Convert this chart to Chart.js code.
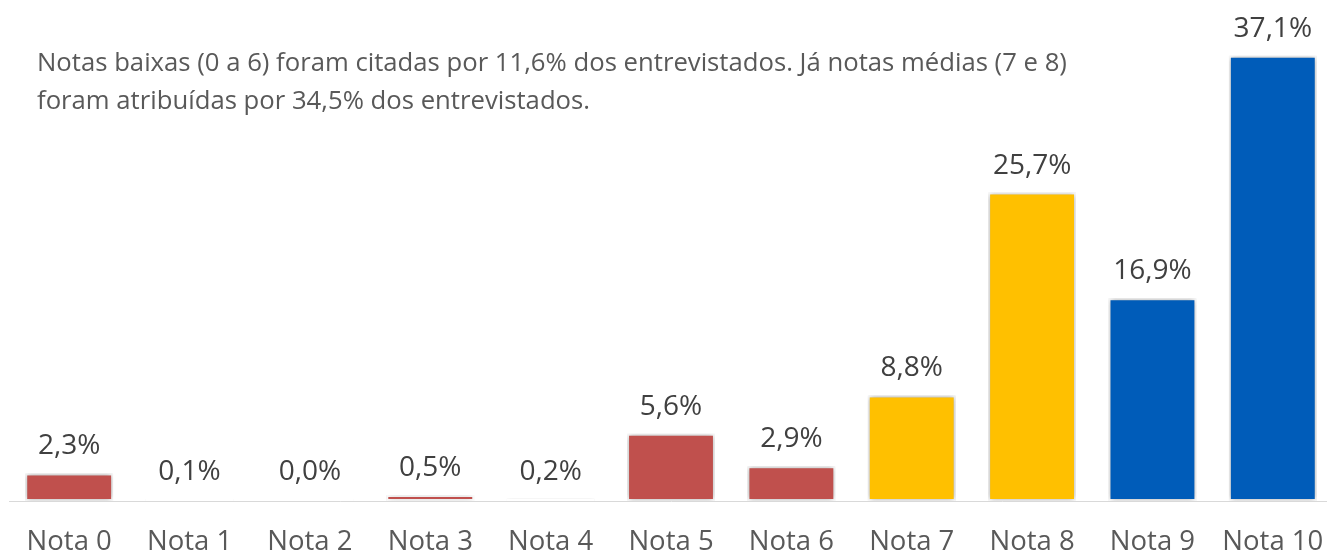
<!DOCTYPE html>
<html>
<head>
<meta charset="utf-8">
<script src="https://cdn.jsdelivr.net/npm/chart.js@4/dist/chart.umd.min.js"></script>
<style>
  html, body { margin: 0; padding: 0; background: #fff; overflow: hidden; }
  #wrap { position: relative; width: 1327px; height: 557px; overflow: hidden; }
  #chart-box { position: absolute; left: 0; top: 0; width: 1342px; height: 557px; }
  .note {
    position: absolute; left: 37px; top: 43px;
    font-family: 'Open Sans', sans-serif; font-size: 25.7px; line-height: 38px;
    color: #595959; white-space: nowrap;
  }
</style>
</head>
<body>
<div id="wrap">
  <div id="chart-box"><canvas id="nps-chart"></canvas></div>
  <div class="note">
    Notas baixas (0 a 6) foram citadas por 11,6% dos entrevistados. Já notas médias (7 e 8)<br>
    foram atribuídas por 34,5% dos entrevistados.
  </div>
</div>
<script>
// Dados
const categories = ['Nota 0', 'Nota 1', 'Nota 2', 'Nota 3', 'Nota 4', 'Nota 5', 'Nota 6', 'Nota 7', 'Nota 8', 'Nota 9', 'Nota 10'];
const values = [2.3, 0.1, 0.0, 0.5, 0.2, 5.6, 2.9, 8.8, 25.7, 16.9, 37.1];
const barColors = ['#C0504D', '#C0504D', '#C0504D', '#C0504D', '#C0504D', '#C0504D', '#C0504D',
                   '#FFC000', '#FFC000', '#005CB9', '#005CB9'];

const fmt = v => v.toFixed(1).replace('.', ',') + '%';

// sombra suave atrás das barras
const barShadow = {
  id: 'barShadow',
  beforeDatasetDraw(chart) {
    const ctx = chart.ctx;
    ctx.save();
    ctx.shadowColor = 'rgba(0,0,0,0.35)';
    ctx.shadowBlur = 6;
    ctx.shadowOffsetX = 0;
    ctx.shadowOffsetY = 0;
  },
  afterDatasetDraw(chart) {
    chart.ctx.restore();
  }
};

// rótulos de valor acima das barras + nomes das categorias abaixo do eixo
const valueLabels = {
  id: 'valueLabels',
  afterDatasetsDraw(chart) {
    const ctx = chart.ctx;
    const meta = chart.getDatasetMeta(0);
    const xScale = chart.scales.x;
    ctx.save();
    ctx.textAlign = 'center';
    ctx.textBaseline = 'middle';
    ctx.font = '28px "Open Sans", sans-serif';
    ctx.fillStyle = '#404040';
    meta.data.forEach((bar, i) => {
      ctx.fillText(fmt(values[i]), bar.x, bar.y - 27);
    });
    ctx.font = '27.5px "Open Sans", sans-serif';
    ctx.fillStyle = '#595959';
    categories.forEach((c, i) => {
      ctx.fillText(c, xScale.getPixelForTick(i), chart.chartArea.bottom + 41);
    });
    ctx.restore();
  }
};

new Chart(document.getElementById('nps-chart').getContext('2d'), {
  type: 'bar',
  data: {
    labels: categories,
    datasets: [{
      data: values,
      backgroundColor: barColors,
      borderColor: '#FFFFFF',
      borderWidth: 2,
      borderSkipped: false,
      categoryPercentage: 0.73,
      barPercentage: 1.0,
      minBarLength: 2
    }]
  },
  options: {
    responsive: true,
    maintainAspectRatio: false,
    animation: false,
    layout: { padding: { left: 9, right: 9, top: 21, bottom: 56 } },
    plugins: {
      legend: { display: false },
      tooltip: { enabled: false }
    },
    scales: {
      x: {
        grid: { display: false, drawTicks: false },
        border: { display: true, color: '#D9D9D9', width: 1 },
        ticks: { display: false }
      },
      y: {
        display: false,
        min: 0,
        max: 40
      }
    }
  },
  plugins: [barShadow, valueLabels]
});
</script>
</body>
</html>
